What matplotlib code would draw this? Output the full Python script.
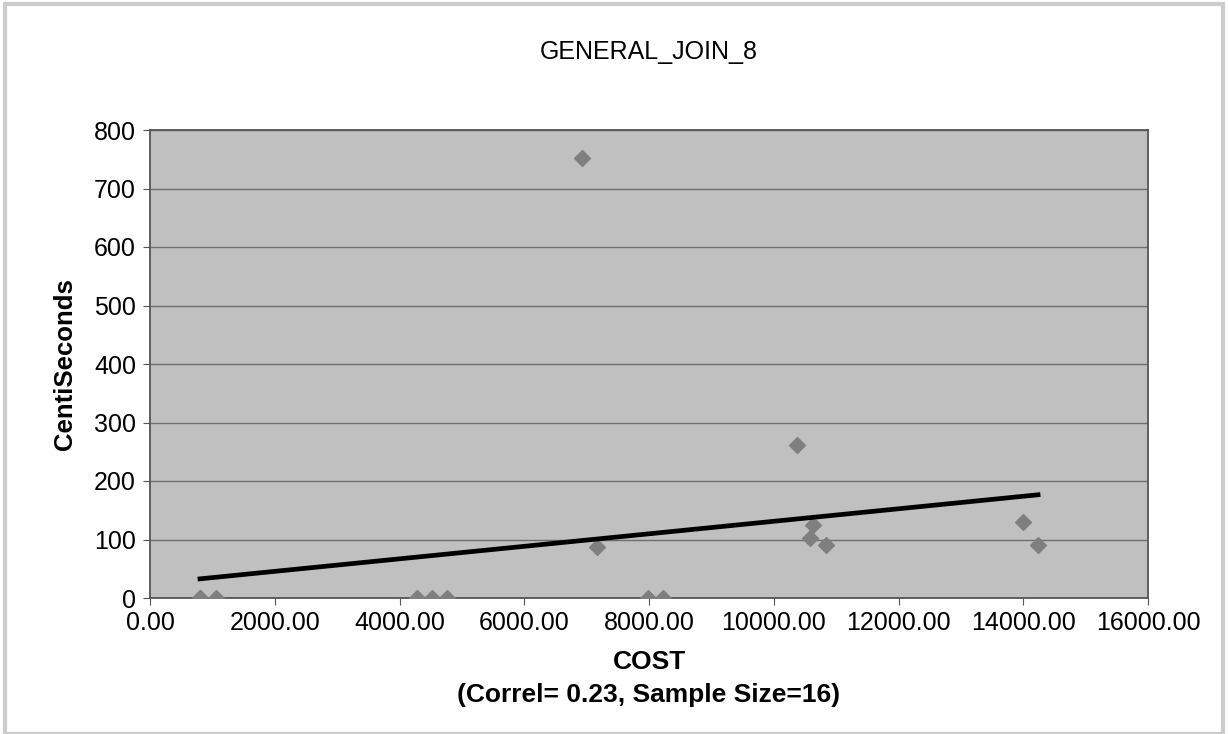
import numpy as np
import matplotlib.pyplot as plt
from matplotlib.ticker import FormatStrFormatter
from matplotlib.patches import Rectangle

plt.rcParams['font.family'] = ['Liberation Sans', 'DejaVu Sans']

cost = [802, 802, 1058, 4280, 4521, 4761, 7984, 8224,
        6926, 7166, 10372, 10630, 10580, 10837, 14000, 14237]
centisec = [0, 0, 0, 0, 0, 0, 0, 0,
            752, 87, 261, 125, 103, 91, 130, 91]

fig = plt.figure(figsize=(12.28, 7.34), dpi=100)
ax = fig.add_axes([150/1228, 1 - 598/734, 998/1228, 468/734])
ax.set_facecolor('#c0c0c0')

# light frame round the whole chart
fig.patches.append(Rectangle((0.004, 0.0), 0.992, 0.995, transform=fig.transFigure,
                             fill=False, edgecolor='#cccccc', linewidth=3))

ax.scatter(cost, centisec, marker='D', s=65, color='#7f7f7f', zorder=3)

# linear trend line
k, b = np.polyfit(cost, centisec, 1)
xs = np.array([min(cost), max(cost)])
ax.plot(xs, k * xs + b, color='black', linewidth=3.4, zorder=4)

ax.set_xlim(0, 16000)
ax.set_ylim(0, 800)
ax.set_xticks(np.arange(0, 16001, 2000))
ax.set_yticks(np.arange(0, 801, 100))
ax.xaxis.set_major_formatter(FormatStrFormatter('%.2f'))
ax.yaxis.grid(True, color='#6e6e6e', linewidth=1)
ax.set_axisbelow(True)
for s in ax.spines.values():
    s.set_color('#555555')
    s.set_linewidth(1.3)
ax.tick_params(labelsize=18, color='#555555', length=5, pad=5)
ax.tick_params(axis='x', pad=4)

fig.text(649/1228, 1 - 52/734, 'GENERAL_JOIN_8', fontsize=18,
         ha='center', va='center')
ax.set_ylabel('CentiSeconds', fontsize=18.5, fontweight='bold', labelpad=12)
ax.set_xlabel('COST\n(Correl= 0.23, Sample Size=16)', fontsize=19,
              fontweight='bold', labelpad=11, linespacing=1.5)

fig.savefig('out.png', dpi=100)
